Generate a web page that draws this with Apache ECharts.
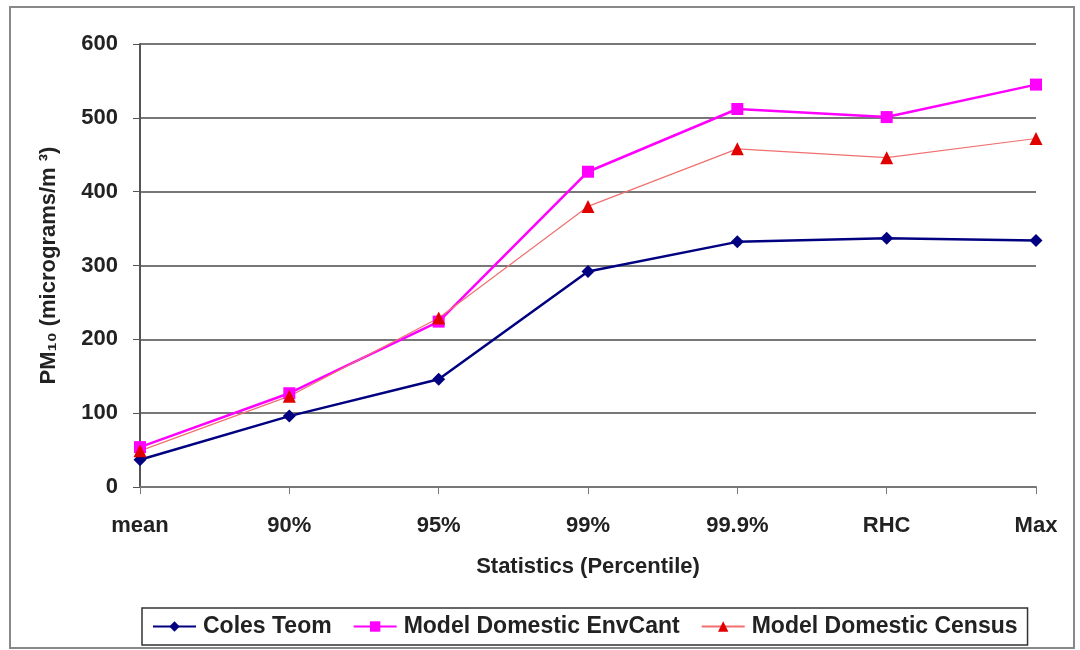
<!DOCTYPE html>
<html><head><meta charset="utf-8">
<script src="https://cdn.jsdelivr.net/npm/echarts@6/dist/echarts.min.js"></script>
<style>html,body{margin:0;padding:0;background:#fff}#c{width:1080px;height:650px}</style>
</head><body><div id="c"></div>
<script>
const categories = ['mean','90%','95%','99%','99.9%','RHC','Max'];
const colesTeom = [37, 96, 146, 292, 332, 337, 334];
const envCant = [54, 127, 224, 427, 512, 501, 545];
const census = [49, 123, 229, 380, 458, 446, 472];
const yTicks = [0, 100, 200, 300, 400, 500, 600];

const chart = echarts.init(document.getElementById('c'));
const font = 'Liberation Sans, Arial, sans-serif';
chart.setOption({
  animation: false,
  backgroundColor: '#fff',
  graphic: [{type:'rect', shape:{x:10,y:7,width:1064,height:641}, style:{fill:'none', stroke:'#888', lineWidth:2}, z:-1}],
  grid: {left:140, right:44, top:44, bottom:163},
  xAxis: {
    type:'category', data: categories, boundaryGap:false,
    name:'Statistics (Percentile)', nameLocation:'middle', nameGap:69,
    nameTextStyle:{fontFamily:font, fontSize:22, fontWeight:'bold', color:'#222'},
    axisLine:{lineStyle:{color:'#777', width:2}},
    axisTick:{show:true, length:7, lineStyle:{color:'#777'}},
    axisLabel:{fontFamily:font, fontSize:22, fontWeight:'bold', color:'#222', margin:28},
    splitLine:{show:false}
  },
  yAxis: {
    type:'value', min: yTicks[0], max: yTicks[yTicks.length-1], interval:100,
    name:'PM\u2081\u2080 (micrograms/m \u00B3)', nameLocation:'middle', nameGap:80,
    nameTextStyle:{fontFamily:font, fontSize:22, fontWeight:'bold', color:'#222'},
    axisLine:{show:true, lineStyle:{color:'#555', width:2}},
    axisTick:{show:true, length:7, lineStyle:{color:'#555'}},
    axisLabel:{fontFamily:font, fontSize:22, fontWeight:'bold', color:'#222', margin:22},
    splitLine:{show:true, lineStyle:{color:'#777', width:2}}
  },
  legend: {
    bottom:5, left:142, width:1000,
    borderColor:'#333', borderWidth:1.5, padding:[7,10,7,10],
    itemWidth:43, itemHeight:13, itemGap:21,
    textStyle:{fontFamily:font, fontSize:23, fontWeight:'bold', color:'#222', padding:[0,0,0,2]},
    data:['Coles Teom','Model Domestic EnvCant','Model Domestic Census']
  },
  series: [
    {name:'Coles Teom', type:'line', data: colesTeom, symbol:'diamond', symbolSize:13,
     lineStyle:{color:'#000080', width:2.5}, itemStyle:{color:'#000080'}},
    {name:'Model Domestic EnvCant', type:'line', data: envCant, symbol:'rect', symbolSize:12,
     lineStyle:{color:'#FF00FF', width:2.5}, itemStyle:{color:'#FF00FF'}},
    {name:'Model Domestic Census', type:'line', data: census, symbol:'triangle', symbolSize:13,
     lineStyle:{color:'#F07070', width:1.2}, itemStyle:{color:'#E00000'}}
  ]
});
</script></body></html>
